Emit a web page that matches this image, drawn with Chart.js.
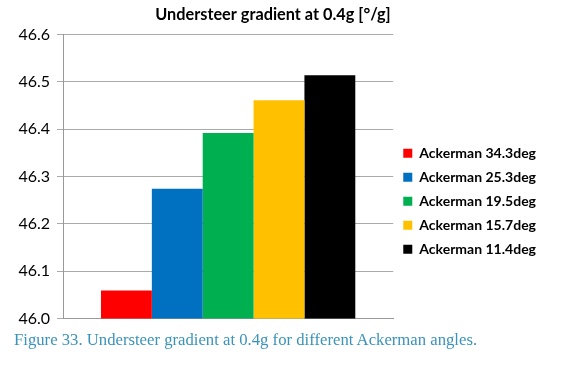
<!DOCTYPE html>
<html>
<head>
<meta charset="utf-8">
<script src="https://cdn.jsdelivr.net/npm/chart.js@4"></script>
<style>
  body { margin: 0; background: #fff; }
  #wrap { position: relative; width: 580px; height: 366px; }
  #box { position: absolute; left: 0; top: 0; width: 580px; height: 335px; }
  #caption {
    position: absolute; left: 14px; top: 330px;
    font-family: "Liberation Serif", serif; font-size: 16.7px; color: #3a93b8;
  }
</style>
</head>
<body>
<div id="wrap">
  <div id="box"><canvas id="chart"></canvas></div>
  <div id="caption">Figure 33. Understeer gradient at 0.4g for different Ackerman angles.</div>
</div>
<script>
// chart data
const categories = [''];
const seriesNames = ['Ackerman 34.3deg', 'Ackerman 25.3deg', 'Ackerman 19.5deg', 'Ackerman 15.7deg', 'Ackerman 11.4deg'];
const seriesValues = [46.059, 46.274, 46.392, 46.461, 46.514];
const seriesColors = ['#ff0000', '#0070c0', '#00b050', '#ffc000', '#000000'];
const yTicks = [46.0, 46.1, 46.2, 46.3, 46.4, 46.5, 46.6];

const datasets = seriesNames.map((name, i) => ({
  label: name,
  data: [seriesValues[i]],
  backgroundColor: seriesColors[i],
  borderWidth: 0,
  barPercentage: 1,
  categoryPercentage: 0.77
}));

new Chart(document.getElementById('chart'), {
  type: 'bar',
  data: { labels: categories, datasets: datasets },
  options: {
    responsive: true,
    maintainAspectRatio: false,
    animation: false,
    layout: { padding: { left: 0, right: 34, top: 5, bottom: 0 } },
    plugins: {
      title: {
        display: true,
        text: 'Understeer gradient at 0.4g [°/g]',
        color: '#000',
        font: { family: 'Lato', size: 16.3, weight: 'bold' },
        padding: { top: 0, bottom: 10 }
      },
      legend: {
        position: 'right',
        maxWidth: 220,
        title: { display: true, text: ' ', font: { size: 12 }, padding: { top: 24, bottom: 24 } },
        labels: {
          color: '#000',
          font: { family: 'Lato', size: 14, weight: 'bold' },
          boxWidth: 9,
          boxHeight: 9,
          padding: 10
        }
      },
      tooltip: { enabled: false }
    },
    scales: {
      x: {
        grid: { display: false },
        border: { color: '#999' },
        ticks: { display: false }
      },
      y: {
        min: yTicks[0],
        max: yTicks[yTicks.length - 1],
        afterBuildTicks: s => { s.ticks = yTicks.map(v => ({ value: v })); },
        afterFit: s => { s.width = 63; },
        grid: { color: '#aaa', tickLength: 6 },
        border: { color: '#999' },
        ticks: {
          color: '#000',
          font: { family: 'Lato', size: 16 },
          padding: 7,
          callback: v => v.toFixed(1)
        }
      }
    }
  }
});
</script>
</body>
</html>
